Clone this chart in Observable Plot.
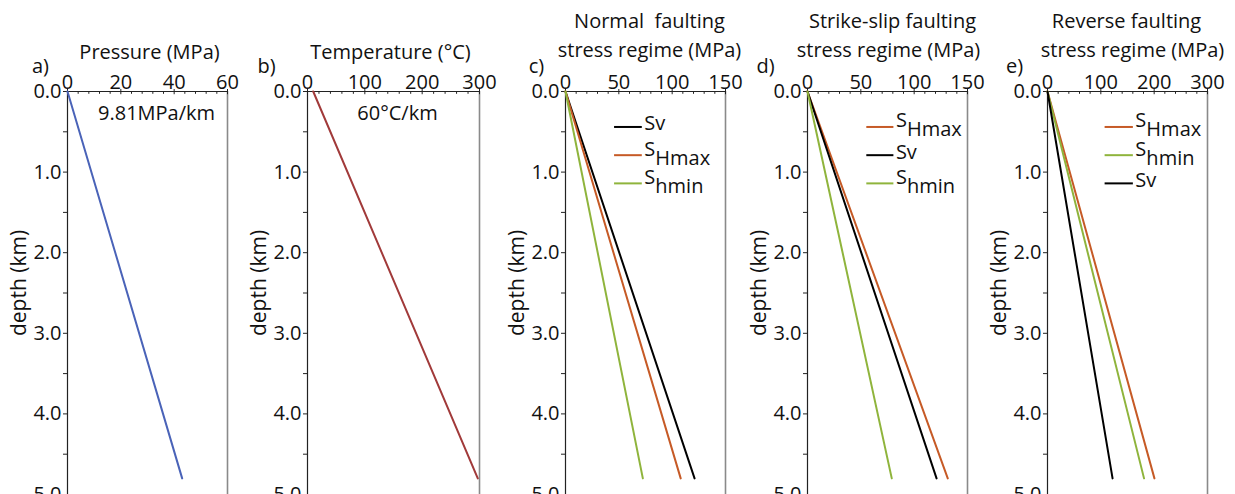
<!DOCTYPE html>
<html><head><meta charset="utf-8">
<script src="https://cdn.jsdelivr.net/npm/d3@7"></script>
<script src="https://cdn.jsdelivr.net/npm/@observablehq/plot@0.6"></script>
<style>
body{margin:0;background:#fff;}
#chart{position:relative;width:1235px;height:494px;overflow:hidden;background:#fff;}
#chart svg{position:absolute;top:0;}
</style></head><body><div id="chart"></div>
<script>
// ---- data ----
const depthEnds = [0, 4.8];                 // km, start and end of each profile
const pressureEnds = [0, 43];               // MPa
const temperatureEnds = [10, 297];          // °C
const normalSv = [0, 121], normalSHmax = [0, 108], normalShmin = [0, 72.5];
const strikeSHmax = [0, 131.5], strikeSv = [0, 121], strikeShmin = [0, 79];
const reverseSHmax = [0, 200.5], reverseShmin = [0, 181], reverseSv = [0, 122];
const depthTicks = [0, 1, 2, 3, 4, 5];
const depthMinorTicks = [0.5, 1.5, 2.5, 3.5, 4.5];
const pressureTicks = [0, 20, 40, 60];
const temperatureTicks = [0, 100, 200, 300];
const stress150Ticks = [0, 50, 100, 150];
const stress300Ticks = [0, 100, 200, 300];

const COLORS = {pressure: "#4a63b8", temperature: "#a13a3a", Sv: "#000000", SHmax: "#c65a26", Shmin: "#8fb43c"};
const LABELS = {Sv: ["Sv", ""], SHmax: ["S", "Hmax"], Shmin: ["S", "hmin"]};
const FONT = "'Open Sans', sans-serif";

const panels = [
  {tag: "a)", tagDx: -27, frameLeft: 67, frameWidth: 160, domain: [0, 60], ticks: pressureTicks, minorStep: 4,
   title: [{t: "Pressure (MPa)", dx: 2, dy: -39}],
   series: [{name: "pressure", values: pressureEnds}],
   note: {text: "9.81MPa/km", x: 33.4, y: 0.27}},
  {tag: "b)", tagDx: -41, frameLeft: 307, frameWidth: 172, domain: [0, 300], ticks: temperatureTicks, minorStep: 20,
   title: [{t: "Temperature (\u00B0C)", dx: -3, dy: -39}],
   series: [{name: "temperature", values: temperatureEnds}],
   note: {text: "60\u00B0C/km", x: 157, y: 0.27}},
  {tag: "c)", tagDx: -29, frameLeft: 565, frameWidth: 160, domain: [0, 150], ticks: stress150Ticks, minorStep: 10,
   title: [{t: "Normal  faulting", dx: 4, dy: -70}, {t: "stress regime (MPa)", dx: 4, dy: -41}],
   series: [{name: "Sv", values: normalSv}, {name: "SHmax", values: normalSHmax}, {name: "Shmin", values: normalShmin}],
   legendX: [46, 72]},
  {tag: "d)", tagDx: -42, frameLeft: 807, frameWidth: 160, domain: [0, 150], ticks: stress150Ticks, minorStep: 10,
   title: [{t: "Strike-slip faulting", dx: 5, dy: -70}, {t: "stress regime (MPa)", dx: 1, dy: -41}],
   series: [{name: "SHmax", values: strikeSHmax}, {name: "Sv", values: strikeSv}, {name: "Shmin", values: strikeShmin}],
   legendX: [55.6, 81]},
  {tag: "e)", tagDx: -33, frameLeft: 1047, frameWidth: 160, domain: [0, 300], ticks: stress300Ticks, minorStep: 20,
   title: [{t: "Reverse faulting", dx: -1, dy: -70}, {t: "stress regime (MPa)", dx: 5, dy: -41}],
   series: [{name: "SHmax", values: reverseSHmax}, {name: "Shmin", values: reverseShmin}, {name: "Sv", values: reverseSv}],
   legendX: [108, 161]}
];

const ML = 80, MR = 40, H = 494, MT = 91;
const chart = document.getElementById("chart");

for (const p of panels) {
  const xmax = p.domain[1];
  const minor = d3.range(0, xmax + 1e-9, p.minorStep).filter(v => !p.ticks.includes(v));
  const marks = [];
  // frame lines
  marks.push(Plot.ruleX([xmax], {stroke: "#8a8a8a", strokeWidth: 1.6}));
  marks.push(Plot.ruleY([0], {stroke: "#222", strokeWidth: 1.2}));
  marks.push(Plot.ruleX([0], {stroke: "#222", strokeWidth: 1.2}));
  // top axis
  marks.push(Plot.axisX({anchor: "top", ticks: p.ticks, tickSize: 3, tickPadding: 0, label: null, fontSize: 20, stroke: "#222", fill: "#111"}));
  marks.push(Plot.ruleX(p.ticks, {x: d => d, y1: 0, y2: 0.04, stroke: "#222"}));
  marks.push(Plot.ruleX(minor, {x: d => d, y1: 0, y2: 0.035, stroke: "#222"}));
  // left axis
  marks.push(Plot.axisY({anchor: "left", ticks: depthTicks, tickSize: 4, tickPadding: 2, label: null, fontSize: 20,
    tickFormat: d => d.toFixed(1), stroke: "#222", fill: "#111"}));
  marks.push(Plot.axisY({anchor: "left", ticks: depthMinorTicks, tickSize: 4, label: null, tickFormat: () => "", stroke: "#222"}));
  marks.push(Plot.text(["depth (km)"], {frameAnchor: "left", textAnchor: "middle", lineAnchor: "middle", rotate: -90,
    dx: -48, dy: -10, fontSize: 21, fill: "#111"}));
  // titles and tag
  for (const l of p.title) {
    marks.push(Plot.text([l.t], {frameAnchor: "top", textAnchor: "middle", lineAnchor: "middle", dx: l.dx, dy: l.dy, fontSize: 20, fill: "#111"}));
  }
  marks.push(Plot.text([p.tag], {frameAnchor: "top-left", textAnchor: "middle", lineAnchor: "middle", dx: p.tagDx, dy: -25, fontSize: 20, fill: "#111"}));
  // data lines
  for (const s of p.series) {
    const rows = depthEnds.map((d, i) => ({depth: d, value: s.values[i]}));
    marks.push(Plot.line(rows, {x: "value", y: "depth", stroke: COLORS[s.name], strokeWidth: 2}));
  }
  // annotation
  if (p.note) {
    marks.push(Plot.text([p.note], {x: "x", y: "y", text: "text", fontSize: 20, fill: "#111"}));
  }
  // legend
  if (p.legendX) {
    const leg = p.series.map((s, i) => ({name: s.name, depth: 0.44 + i * 0.35,
      main: LABELS[s.name][0], sub: LABELS[s.name][1]}));
    marks.push(Plot.ruleY(leg, {y: "depth", x1: p.legendX[0], x2: p.legendX[1], stroke: d => COLORS[d.name], strokeWidth: 2}));
    marks.push(Plot.text(leg, {x: p.legendX[1], y: "depth", text: "main", textAnchor: "start", dx: 2,
      fontSize: 20, fill: "#111", filter: d => d.sub === "", dy: -3}));
    marks.push(Plot.text(leg, {x: p.legendX[1], y: "depth", text: "main", textAnchor: "start", dx: 2,
      fontSize: 20, fill: "#111", filter: d => d.sub !== "", dy: -6}));
    marks.push(Plot.text(leg, {x: p.legendX[1], y: "depth", text: "sub", textAnchor: "start", dx: 13,
      fontSize: 20, fill: "#111", filter: d => d.sub !== "", dy: 3}));
  }
  const svg = Plot.plot({
    width: ML + p.frameWidth + MR, height: H,
    marginLeft: ML, marginRight: MR, marginTop: MT, marginBottom: 0,
    x: {domain: p.domain},
    y: {domain: [0, 5], reverse: true},
    style: {fontFamily: FONT, fontSize: "20px", background: "transparent", overflow: "visible", color: "#111"},
    marks
  });
  svg.style.left = (p.frameLeft - ML) + "px";
  chart.appendChild(svg);
}
</script></body></html>
